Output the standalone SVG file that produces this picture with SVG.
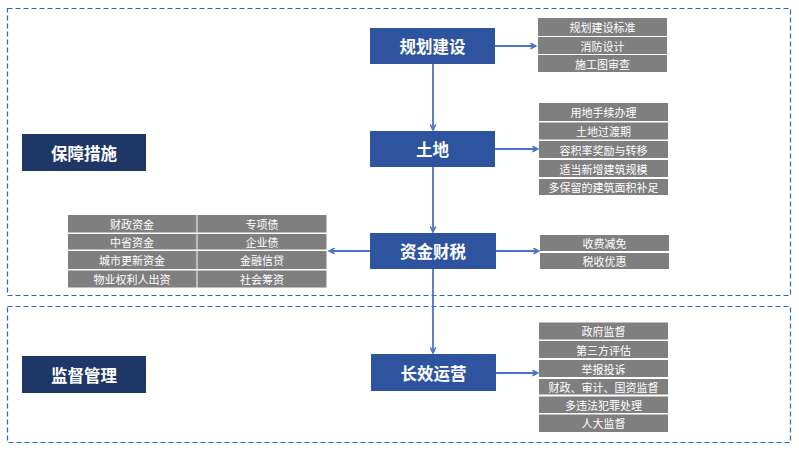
<svg xmlns="http://www.w3.org/2000/svg" width="799" height="452" viewBox="0 0 799 452">
<style>
.frame{fill:none;stroke:#2468d8;stroke-width:1.2;stroke-dasharray:5,3}
.main rect{fill:#2e54a0}
.cat rect{fill:#1f3766}
.main text,.cat text{fill:#fff;font-family:"Noto Sans CJK SC","Liberation Sans",sans-serif;font-weight:bold;font-size:16.5px;text-anchor:middle;dominant-baseline:central}
.item rect{fill:#7f7f7f}
.item text{fill:#fff;font-family:"Noto Sans CJK SC","Liberation Sans",sans-serif;font-size:11px;text-anchor:middle;dominant-baseline:central}
.conn line{stroke:#4a74c8;stroke-width:1.8;fill:none}
</style>
<defs>
<marker id="arr" viewBox="0 0 10 10" refX="9" refY="5" markerWidth="7" markerHeight="7" orient="auto" markerUnits="userSpaceOnUse">
<path d="M1,1 L9,5 L1,9" fill="none" stroke="#4a74c8" stroke-width="2.2"/>
</marker>
</defs>
<rect class="frame" x="7.5" y="8.5" width="783" height="287"/>
<rect class="frame" x="7.5" y="306.5" width="783" height="136"/>

<g class="conn">
<line x1="433" y1="64" x2="433" y2="130" marker-end="url(#arr)"/>
<line x1="433" y1="167" x2="433" y2="232" marker-end="url(#arr)"/>
<line x1="433" y1="269" x2="433" y2="353" marker-end="url(#arr)"/>
<line x1="495" y1="46" x2="536" y2="46" marker-end="url(#arr)"/>
<line x1="495" y1="149" x2="538" y2="149" marker-end="url(#arr)"/>
<line x1="496" y1="251" x2="539" y2="251" marker-end="url(#arr)"/>
<line x1="370" y1="251" x2="329" y2="251" marker-end="url(#arr)"/>
<line x1="496" y1="373" x2="538" y2="373" marker-end="url(#arr)"/>
</g>

<g id="cat-baozhang" class="cat"><rect x="22" y="134" width="124" height="37"/><text x="84" y="152.5">保障措施</text></g>
<g id="cat-jiandu" class="cat"><rect x="22" y="356" width="124" height="37"/><text x="84" y="374.5">监督管理</text></g>

<g id="node-guihua" class="main"><rect x="370" y="28" width="125" height="36"/><text x="432.5" y="46">规划建设</text></g>
<g id="node-tudi" class="main"><rect x="370" y="131" width="125" height="36"/><text x="432.5" y="149">土地</text></g>
<g id="node-zijin" class="main"><rect x="370" y="233" width="126" height="36"/><text x="433" y="251">资金财税</text></g>
<g id="node-changxiao" class="main"><rect x="371" y="354" width="125" height="37"/><text x="433.5" y="372.5">长效运营</text></g>

<g id="list-guihua" class="item">
<rect x="538" y="18" width="129" height="18"/><text x="602.5" y="27">规划建设标准</text>
<rect x="538" y="37" width="129" height="17"/><text x="602.5" y="45.5">消防设计</text>
<rect x="538" y="55" width="129" height="17"/><text x="602.5" y="63.5">施工图审查</text>
</g>

<g id="list-tudi" class="item">
<rect x="539" y="103" width="129" height="18"/><text x="603.5" y="112">用地手续办理</text>
<rect x="539" y="122.5" width="129" height="17"/><text x="603.5" y="131">土地过渡期</text>
<rect x="539" y="141" width="129" height="17"/><text x="603.5" y="149.5">容积率奖励与转移</text>
<rect x="539" y="160" width="129" height="17"/><text x="603.5" y="168.5">适当新增建筑规模</text>
<rect x="539" y="179" width="129" height="16"/><text x="603.5" y="187">多保留的建筑面积补足</text>
</g>

<g id="list-zijin-right" class="item">
<rect x="540" y="235" width="129" height="16"/><text x="604.5" y="243">收费减免</text>
<rect x="540" y="253" width="129" height="16"/><text x="604.5" y="261">税收优惠</text>
</g>

<g id="list-zijin-left" class="item">
<rect x="68" y="215" width="128.5" height="17.5"/><text x="132" y="223.8">财政资金</text>
<rect x="197.5" y="215" width="129" height="17.5"/><text x="262" y="223.8">专项债</text>
<rect x="68" y="234" width="128.5" height="15.5"/><text x="132" y="241.8">中省资金</text>
<rect x="197.5" y="234" width="129" height="15.5"/><text x="262" y="241.8">企业债</text>
<rect x="68" y="251" width="128.5" height="18"/><text x="132" y="260">城市更新资金</text>
<rect x="197.5" y="251" width="129" height="18"/><text x="262" y="260">金融信贷</text>
<rect x="68" y="270.5" width="128.5" height="17"/><text x="132" y="279">物业权利人出资</text>
<rect x="197.5" y="270.5" width="129" height="17"/><text x="262" y="279">社会筹资</text>
</g>

<g id="list-changxiao" class="item">
<rect x="539" y="322.5" width="129" height="17"/><text x="603.5" y="331">政府监督</text>
<rect x="539" y="341" width="129" height="17"/><text x="603.5" y="349.5">第三方评估</text>
<rect x="539" y="360" width="129" height="17"/><text x="603.5" y="368.5">举报投诉</text>
<rect x="539" y="379" width="129" height="15.5"/><text x="603.5" y="386.8">财政、审计、国资监督</text>
<rect x="539" y="396.5" width="129" height="16.5"/><text x="603.5" y="404.8">多违法犯罪处理</text>
<rect x="539" y="414.5" width="129" height="17.5"/><text x="603.5" y="423.3">人大监督</text>
</g>
</svg>
